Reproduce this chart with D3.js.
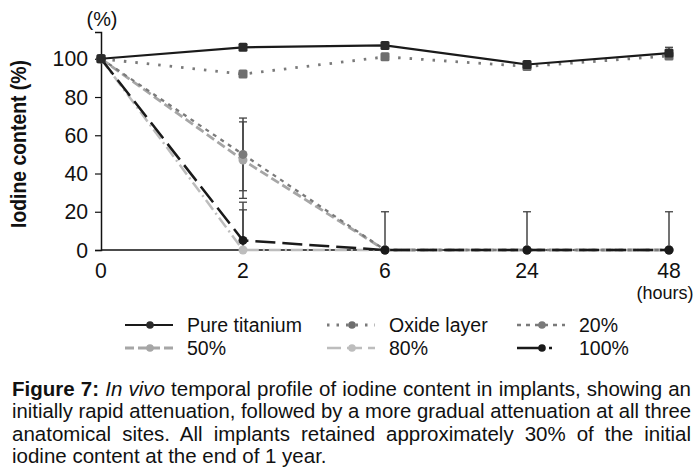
<!DOCTYPE html>
<html>
<head>
<meta charset="utf-8">
<script src="https://cdn.jsdelivr.net/npm/d3@7"></script>
<style>
  body { margin: 0; background: #fff; }
  svg text { font-family: "Liberation Sans Narrow", "Arial Narrow", "Liberation Sans", sans-serif; fill: #111; }
</style>
</head>
<body>
<div id="chart"></div>
<script>
const hours = ['0', '2', '6', '24', '48'];
const yTicks = [0, 20, 40, 60, 80, 100];

const pureTitanium = [100, 106, 107, 97, 103];
const oxideLayer = [100, 92, 101, 96, 101.5];
const conc20 = [100, 50, 0, 0, 0];
const conc50 = [100, 47, 0, 0, 0];
const conc80 = [100, 0, 0, 0, 0];
const conc100 = [100, 5, 0, 0, 0];

// sd per point; series with up=true only show the upper whisker
const errTitanium = [0, 0, 0, 0, 3];
const err20 = [0, 19, 0, 0, 0];
const err50 = [0, 20, 0, 0, 0];
const err80 = [0, 21, 0, 0, 0];
const err100 = [0, 20, 20, 20, 20];

const captionLines = [
  [['Figure 7:', 'bold'], [' ', ''], ['In vivo', 'italic'], [' temporal profile of iodine content in implants, showing an', '']],
  [['initially rapid attenuation, followed by a more gradual attenuation at all three', '']],
  [['anatomical sites. All implants retained approximately 30% of the initial', '']],
  [['iodine content at the end of 1 year.', '']]
];

const width = 699, height = 476;
const margin = { left: 101, top: 32 };

const svg = d3.select('#chart').append('svg')
  .attr('width', width).attr('height', height);

const x = d3.scalePoint().domain(hours).range([margin.left, 669]);
const y = d3.scaleLinear().domain([0, 114]).range([250, margin.top]);

// axes
svg.append('line')
  .attr('x1', x('0')).attr('x2', x('48'))
  .attr('y1', y(0)).attr('y2', y(0))
  .attr('stroke', '#111').attr('stroke-width', 1.5);

const yAxis = d3.axisLeft(y).tickValues(yTicks).tickSize(6).tickPadding(7);
const gy = svg.append('g').attr('transform', `translate(${margin.left},0)`).call(yAxis);
gy.select('.domain').attr('stroke', '#111').attr('stroke-width', 1.5);
gy.selectAll('.tick line').attr('stroke', '#111').attr('stroke-width', 1.2);
gy.selectAll('.tick text').style('font-size', '22px').attr('fill', '#111')
  .attr('textLength', d => String(d).length * 11.8).attr('lengthAdjust', 'spacingAndGlyphs');

svg.selectAll('.xlab').data(hours).join('text')
  .attr('x', d => x(d)).attr('y', 278)
  .attr('text-anchor', 'middle').style('font-size', '22px')
  .attr('textLength', d => d.length * 11.8).attr('lengthAdjust', 'spacingAndGlyphs')
  .text(d => d);

svg.append('text').attr('x', 665).attr('y', 299)
  .attr('text-anchor', 'middle').style('font-size', '18px')
  .text('(hours)');
svg.append('text').attr('x', margin.left + 1).attr('y', 26)
  .attr('text-anchor', 'middle').style('font-size', '21px')
  .attr('textLength', 31).attr('lengthAdjust', 'spacingAndGlyphs').text('(%)');
svg.append('text')
  .attr('transform', `translate(26,${144}) rotate(-90)`)
  .attr('text-anchor', 'middle').style('font-size', '22px').style('font-weight', 'bold')
  .attr('textLength', 168).attr('lengthAdjust', 'spacingAndGlyphs')
  .text('Iodine content (%)');

const series = [
  { name: '80%', values: conc80, err: err80, up: true, color: '#bdbdbd', dash: '12,4,2,4', width: 2.5, marker: 'circle', mcolor: '#bdbdbd' },
  { name: '50%', values: conc50, err: err50, up: false, color: '#a6a6a6', dash: '9,4', width: 2.8, marker: 'circle', mcolor: '#a6a6a6' },
  { name: '20%', values: conc20, err: err20, up: false, color: '#7a7a7a', dash: '4,5', width: 2.3, marker: 'circle', mcolor: '#7a7a7a' },
  { name: 'Oxide layer', values: oxideLayer, err: null, up: false, color: '#7a7a7a', dash: '2.5,9', width: 2.8, marker: 'square', mcolor: '#6e6e6e' },
  { name: '100%', values: conc100, err: err100, up: true, color: '#1a1a1a', dash: '20,7', width: 2.5, marker: 'circle', mcolor: '#1a1a1a' },
  { name: 'Pure titanium', values: pureTitanium, err: errTitanium, up: true, color: '#1a1a1a', dash: null, width: 2.2, marker: 'square', mcolor: '#2a2a2a' }
];

// error bars
const errG = svg.append('g');
series.forEach(s => {
  if (!s.err) return;
  s.err.forEach((e, i) => {
    if (!e) return;
    const cx = x(hours[i]);
    const top = s.values[i] + e;
    const bot = s.up ? s.values[i] : s.values[i] - e;
    errG.append('line').attr('x1', cx).attr('x2', cx)
      .attr('y1', y(top)).attr('y2', y(bot))
      .attr('stroke', '#444').attr('stroke-width', 1.5);
    errG.append('line').attr('x1', cx - 4).attr('x2', cx + 4)
      .attr('y1', y(top)).attr('y2', y(top))
      .attr('stroke', '#444').attr('stroke-width', 1.3);
    if (!s.up) {
      errG.append('line').attr('x1', cx - 4).attr('x2', cx + 4)
        .attr('y1', y(bot)).attr('y2', y(bot))
        .attr('stroke', '#444').attr('stroke-width', 1.3);
    }
  });
});

const line = d3.line().x((d, i) => x(hours[i])).y(d => y(d));

function drawMarker(g, s, cx, cy, r) {
  if (s.marker === 'square') {
    g.append('rect').attr('x', cx - r).attr('y', cy - r)
      .attr('width', r * 2).attr('height', r * 2).attr('rx', 1.5)
      .attr('fill', s.mcolor);
  } else {
    g.append('circle').attr('cx', cx).attr('cy', cy).attr('r', r).attr('fill', s.mcolor);
  }
}

series.forEach(s => {
  svg.append('path').datum(s.values)
    .attr('d', line).attr('fill', 'none')
    .attr('stroke', s.color).attr('stroke-width', s.width)
    .attr('stroke-dasharray', s.dash);
  const g = svg.append('g');
  s.values.forEach((v, i) => drawMarker(g, s, x(hours[i]), y(v), 4.5));
});

// legend
const legendOrder = ['Pure titanium', 'Oxide layer', '20%', '50%', '80%', '100%'];
const legendDash = { '100%': '26,6,3,13', '80%': '14,6,1,0', 'Oxide layer': '2.5,7' };
const colX = [125, 327, 517];
const rowY = [325, 348];
legendOrder.forEach((name, k) => {
  const s = series.find(d => d.name === name);
  const lx = colX[k % 3], ly = rowY[Math.floor(k / 3)];
  const g = svg.append('g');
  g.append('line').attr('x1', lx).attr('x2', lx + 48)
    .attr('y1', ly).attr('y2', ly)
    .attr('stroke', s.color).attr('stroke-width', s.width)
    .attr('stroke-dasharray', legendDash[name] || s.dash);
  g.append('circle').attr('cx', lx + 25).attr('cy', ly).attr('r', 3.8).attr('fill', s.mcolor);
  g.append('text').attr('x', lx + 62).attr('y', ly + 7)
    .style('font-size', '19.5px').text(name);
});

// caption, justified: squeeze glyphs if too long, widen word gaps if short
const capTop = 396, capStep = 22.3, capLeft = 12, capRight = 691;
captionLines.forEach((parts, li) => {
  const t = svg.append('text').attr('x', capLeft).attr('y', capTop + li * capStep)
    .style('font-size', '20.5px');
  parts.forEach(([str, style]) => {
    const ts = t.append('tspan').text(str);
    if (style === 'bold') ts.style('font-weight', 'bold');
    if (style === 'italic') ts.style('font-style', 'italic');
  });
  if (li < captionLines.length - 1) {
    const target = capRight - capLeft;
    const len = t.node().getComputedTextLength();
    if (len > target) {
      t.attr('textLength', target).attr('lengthAdjust', 'spacingAndGlyphs');
    } else {
      const spaces = (parts.map(p => p[0]).join('').match(/ /g) || []).length;
      t.attr('word-spacing', (target - len) / spaces);
    }
  }
});
</script>
</body>
</html>
